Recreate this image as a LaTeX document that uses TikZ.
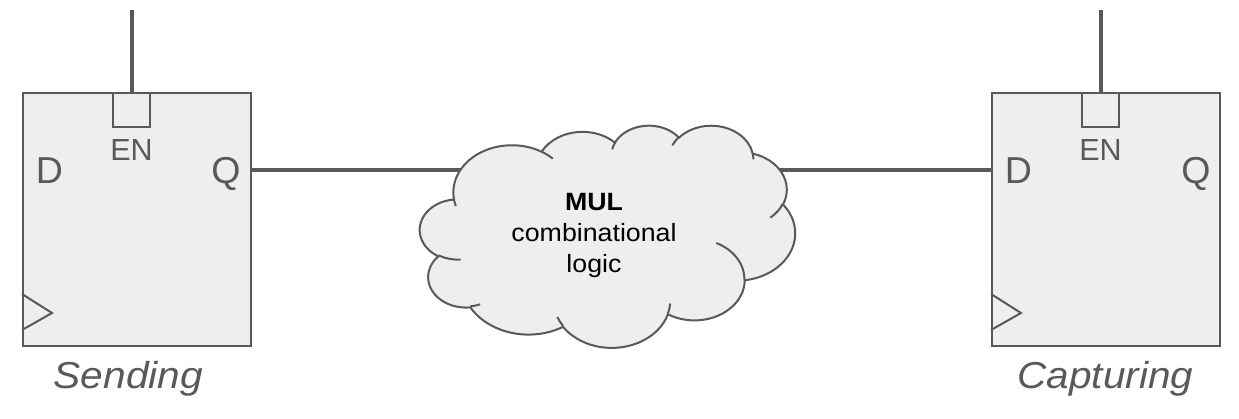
\documentclass[tikz,border=0pt]{standalone}
\usepackage{fontspec}
\usepackage{graphicx}
\setmainfont{Liberation Sans}
\usetikzlibrary{calc}
\definecolor{ink}{HTML}{595959}
\definecolor{boxfill}{HTML}{EEEEEE}
\newcommand\csx{0.0086806}
\newcommand\csy{0.0051389}
\newcommand\carc[4]{arc[x radius={#1*\csx}, y radius={#2*\csy}, start angle={atan2(#1*sin(#3),#2*cos(#3))}, delta angle={mod(atan2(#1*sin(#3+#4),#2*cos(#3+#4))-atan2(#1*sin(#3),#2*cos(#3))+720,360)}]}
% point given in hundreds of shape units
\newcommand\cpt[2]{({420+#1*0.86806},{125+#2*0.51389})}
\begin{document}
\begin{tikzpicture}[x=1pt,y=-1pt,
  ffbox/.style={draw=ink,fill=boxfill,line width=2pt,minimum width=228pt,minimum height=253pt,inner sep=0pt},
  enbox/.style={draw=ink,fill=boxfill,line width=2pt,minimum width=37pt,minimum height=34pt,inner sep=0pt},
  wire/.style={draw=ink,line width=4pt},
  thinline/.style={draw=ink,line width=2pt},
  pin/.style={text=ink,font=\fontsize{37.5}{40}\selectfont,anchor=base,inner sep=0pt},
  enlabel/.style={text=ink,font=\fontsize{30.5}{34}\selectfont,anchor=base,inner sep=0pt},
  ffname/.style={text=ink,font=\fontsize{37.5}{42}\selectfont\itshape,anchor=base,inner sep=0pt},
  cloudtext/.style={text=black,font=\fontsize{25}{31}\selectfont,inner sep=0pt}]
\useasboundingbox (0,0) rectangle (1239,418);
% flip-flops
\node[ffbox] (snd) at (137,219.5) {};
\node[ffbox] (cap) at (1106,219.5) {};
\node[enbox] (snden) at (131.5,110) {};
\node[enbox] (capen) at (1100.5,110) {};
\coordinate (sndclk) at (131.5,10);
\coordinate (capclk) at (1100.5,10);
\draw[wire] (snden.north) -- (sndclk);
\draw[wire] (capen.north) -- (capclk);
\draw[thinline,line join=miter] ($(snd.south west)+(0,-53)$) -- ++(30,19) -- ++(-30,17);
\draw[thinline,line join=miter] ($(cap.south west)+(0,-53)$) -- ++(30,19) -- ++(-30,17);
\node[pin] (sndD) at (49.5,183.5) {D};
\node[pin] (sndQ) at (226,183.5) {Q};
\node[enlabel] (sndEN) at (131.5,160) {EN};
\node[pin] (capD) at (1018.5,183.5) {D};
\node[pin] (capQ) at (1196,183.5) {Q};
\node[enlabel] (capEN) at (1100.5,160) {EN};
\node[ffname] (sndname) at (128.3,388.5) {\scalebox{1.085}[1]{Sending}};
\node[ffname] (capname) at (1105.5,388.5) {\scalebox{1.08}[1]{Capturing}};
% wires into the cloud
\coordinate (cin) at (478,170);
\coordinate (cout) at (768,170);
\draw[wire] (snd.east |- cin) -- (cin);
\draw[wire] (cout) -- (cap.west |- cout);
% cloud
\draw[draw=ink,fill=boxfill,line width=2pt] \cpt{39.00}{143.70}
  \carc{6753}{9190}{-190.4875}{123.7805}
  \carc{5333}{7267}{-144.1024}{89.9452}
  \carc{4365}{5945}{-145.8079}{99.7230}
  \carc{4857}{6595}{-130.9861}{117.2417}
  \carc{5333}{7273}{-78.7089}{109.0269}
  \carc{6775}{9220}{-46.2673}{130.2690}
  \carc{5785}{7867}{0.6250}{114.0333}
  \carc{6752}{9215}{22.4516}{115.1726}
  \carc{7720}{10543}{66.2426}{75.7110}
  \carc{4360}{5918}{-274.9421}{146.7356}
  \carc{4345}{5945}{-246.8285}{152.5189}
  -- cycle;
\draw[draw=ink,line width=2pt]
  \cpt{46.93}{261.77} \carc{4345}{5945}{86.7420}{26.4295}
  \cpt{69.28}{348.99} \carc{4360}{5918}{73.6105}{11.4475}
  \cpt{164.78}{390.90} \carc{6752}{9215}{137.6242}{14.0811}
  \cpt{288.27}{347.51} \carc{6752}{9215}{6.4533}{15.9984}
  \cpt{341.29}{229.54} \carc{5785}{7867}{-70.2924}{70.9174}
  \cpt{417.98}{153.54} \carc{5333}{7273}{30.3180}{27.7515}
  \cpt{383.24}{54.26} \carc{4857}{6595}{-13.7443}{14.8589}
  \cpt{290.78}{39.52} \carc{4857}{6595}{-149.1815}{18.1954}
  \cpt{221.41}{47.20} \carc{4365}{5945}{-163.4943}{17.6864}
  \cpt{140.00}{51.92} \carc{6753}{9190}{-66.7070}{12.3194}
  \cpt{41.27}{157.89} \carc{6753}{9190}{157.6544}{11.8582};
\node[cloudtext] (mul) at (594,235) {\scalebox{1.07}[1]{\begin{tabular}{@{}c@{}}\textbf{MUL}\\combinational\\logic\end{tabular}}};
\end{tikzpicture}
\end{document}
